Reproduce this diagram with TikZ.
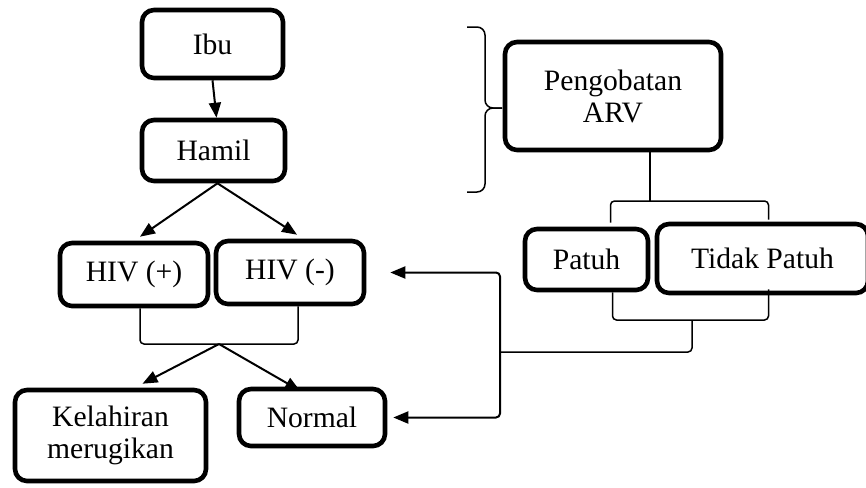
\documentclass[tikz,border=0pt]{standalone}
\usepackage{fontspec}
\setmainfont{Liberation Serif}
\usetikzlibrary{arrows.meta}

\begin{document}
\begin{tikzpicture}[
    x=0.5pt, y=-0.5pt,
    box/.style={draw, line width=2.3pt, rounded corners=6pt, align=center,
                inner sep=0pt, font=\fontsize{14.8}{16}\selectfont},
    link/.style={line width=0.75pt, rounded corners=2pt},
    arrow/.style={line width=1pt, -{Triangle[length=7.5pt, width=6pt]}},
    curly/.style={line width=0.75pt, rounded corners=4pt},
  ]
  \useasboundingbox (0,0) rectangle (866,487);

  % --- left column: mother -> pregnancy -> status -------------------------
  \node[box, minimum width=70.5pt, minimum height=34pt] (ibu) at (212.5,44) {Ibu};
  \node[box, minimum width=71.5pt, minimum height=30.5pt] (hamil) at (213.5,150.5) {Hamil};
  \node[box, minimum width=74pt, minimum height=31.5pt] (hivp) at (134,274.5) {HIV (+)};
  \node[box, minimum width=74pt, minimum height=31.5pt] (hivn) at (290,272.5) {HIV (-)};
  \node[box, minimum width=95.5pt, minimum height=45.5pt] (kel) at (110.5,435.5) {Kelahiran\\merugikan};
  \node[box, minimum width=73pt, minimum height=28.5pt] (normal) at (312,417.5) {Normal};

  % --- right column: treatment and adherence ------------------------------
  \node[box, minimum width=108pt, minimum height=54pt] (arv) at (613,96) {Pengobatan\\ARV};
  \node[box, minimum width=61.5pt, minimum height=30.5pt] (patuh) at (586.5,259.5) {Patuh};
  \node[box, minimum width=105.5pt, minimum height=34.5pt] (tidak) at (762.5,258.5) {Tidak Patuh};

  % --- joints -------------------------------------------------------------
  \coordinate (hivjoin) at (219,344);
  \coordinate (treatjoin) at (650,201);
  \coordinate (compjoin) at (692,320);
  \coordinate (outjoin) at (500,352);
  \coordinate (bracetop) at (467,27);
  \coordinate (bracetip) at (502,108);
  \coordinate (bracebot) at (467,192);

  % --- arrows on the left -------------------------------------------------
  \draw[arrow] (ibu.south) -- ([xshift=1.5pt]hamil.north);
  \draw[arrow] ([xshift=2pt]hamil.south) -- ([xshift=3pt, yshift=2pt]hivp.north);
  \draw[arrow] ([xshift=2pt]hamil.south) -- ([xshift=3.5pt, yshift=2pt]hivn.north);
  \draw[link] ([xshift=3pt]hivp.south) |- (hivjoin) -| ([xshift=4pt]hivn.south);
  \draw[arrow] (hivjoin) -- ([xshift=16pt, yshift=2pt]kel.north);
  \draw[arrow] (hivjoin) -- ([xshift=-6pt, yshift=-2pt]normal.north);

  % --- brace and brackets on the right ------------------------------------
  \draw[curly] (bracetop) -- (485,27) -- (485,108) -- (bracetip);
  \draw[curly] (bracetip) -- (485,108) -- (485,192) -- (bracebot);
  \draw[link] ([xshift=18.5pt]arv.south) -- (treatjoin);
  \draw[link] ([xshift=12pt, yshift=2pt]patuh.north) |- (treatjoin) -| ([xshift=3pt, yshift=1pt]tidak.north);
  \draw[link] ([xshift=13pt]patuh.south) |- (compjoin) -| ([xshift=3pt, yshift=3pt]tidak.south);
  \draw[link] (compjoin) |- (outjoin);

  % --- feedback to the outcomes -------------------------------------------
  \draw[arrow, rounded corners=2pt, shorten >=12pt] (outjoin) |- (hivn.east);
  \draw[arrow, rounded corners=2pt, shorten >=3pt] (outjoin) |- (normal.east);

\end{tikzpicture}
\end{document}
